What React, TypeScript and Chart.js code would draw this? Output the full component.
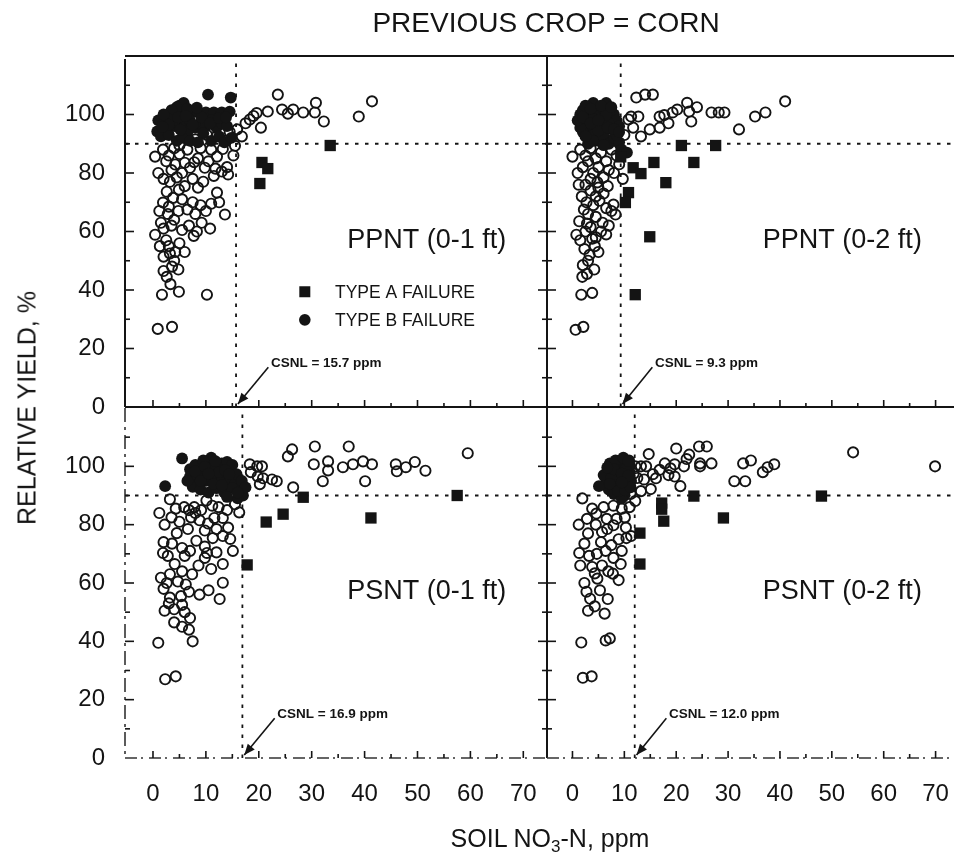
import React, { useEffect, useRef } from "react";
import { Chart, registerables } from "chart.js";

Chart.register(...registerables);

const FONT = "'Liberation Sans', Arial, Helvetica, sans-serif";
const INK = "#141414";

// ---- axes ----
const X_TICKS = [0, 10, 20, 30, 40, 50, 60, 70];
const Y_TICKS = [0, 20, 40, 60, 80, 100];
const X_TICK_MARKS = [0, 5, 10, 15, 20, 25, 30, 35, 40, 45, 50, 55, 60, 65, 70];
const Y_TICK_MARKS = [10, 20, 30, 40, 50, 60, 70, 80, 90, 100, 110];
const RY_LINE = 90;

// ---- labels ----
const TITLE = "PREVIOUS CROP = CORN";
const Y_TITLE = "RELATIVE YIELD, %";
const PANEL_LABELS = ["PPNT (0-1 ft)", "PPNT (0-2 ft)", "PSNT (0-1 ft)", "PSNT (0-2 ft)"];
const CSNL_VALUES = [15.7, 9.3, 16.9, 12.0];
const LEGEND_LABELS = ["TYPE A FAILURE", "TYPE B FAILURE"];

// ---- PPNT 0-1 ft ----
const TL_OPEN = [
  [15.9, 94.9], [16.8, 92.5], [15.5, 89.3], [17.5, 97], [18.3, 98.3], [19, 99.5], [19.6, 100.5], [20.4, 95.5],
  [21.7, 101], [23.6, 106.8], [24.4, 101.7], [25.5, 100.3], [26.5, 101.7], [28.4, 100.7], [30.6, 100.7],
  [30.8, 104], [32.3, 97.6], [38.9, 99.3], [41.4, 104.5],
  [12, 92.5], [13.6, 91], [8, 91.5], [10.2, 93], [14.5, 94], [5, 89.5],
  [0.4, 85.6], [1.9, 88], [3, 86], [4.2, 82.9], [5, 86.5], [6.5, 88], [7, 81.8], [8.5, 85], [9.8, 81.8],
  [10.5, 84], [11, 88], [12.1, 85.6], [13, 80.5], [14, 82], [14.2, 79.5], [2.5, 84], [6, 83.5], [4, 88.5],
  [15.2, 86], [9, 88.5], [3.5, 81], [1, 80], [2, 78], [5.5, 80], [7.5, 78], [9.5, 77], [11.5, 79], [11.8, 81.5],
  [13.2, 88.2], [7.8, 83.7],
  [3.2, 77], [4.5, 78.5], [2.6, 73.6], [4.9, 74.3], [8.5, 75], [12.1, 73.3], [1.9, 69.9], [3, 68.5], [7.5, 70],
  [9, 69], [11, 69.5], [13.6, 65.8], [5.5, 71], [6.5, 67.5], [2.8, 66], [4, 64], [10, 67], [6, 75.5],
  [3.8, 71.5], [8, 66], [12.5, 70], [1.2, 67], [4.8, 67],
  [0.4, 58.9], [2, 61], [3.5, 62], [5.5, 60.5], [8.3, 60], [7.7, 58.5], [2.5, 57], [3, 55], [4.2, 53], [2, 51.4],
  [3.6, 48], [2.6, 44.5], [4, 50], [3.2, 52.5], [5, 56], [1.5, 63], [6.8, 62], [9.2, 63], [10.8, 61], [1.3, 55],
  [4.8, 47], [2, 46.5], [3.3, 42], [6, 53],
  [1.7, 38.4], [4.9, 39.4], [10.2, 38.4], [0.9, 26.7], [3.6, 27.4],
];
const TL_TYPE_A = [[33.5, 89.4], [20.6, 83.6], [21.7, 81.5], [20.2, 76.4]];
const TL_TYPE_B = [
  [4, 100.7], [5.5, 101], [7, 100.5], [8.5, 100.7], [10, 100.7], [11.5, 100.7], [13, 100.7], [14.5, 101],
  [5, 103], [5.8, 104], [4.5, 102.5], [10.4, 106.8], [14.7, 105.8], [6.5, 102], [3.5, 101.5],
  [1, 98], [2, 97], [3, 98.5], [4, 96], [5, 97.5], [6, 96], [7, 98], [8, 95.5], [9, 97], [10, 96], [11, 98],
  [12, 95.5], [13, 97], [14, 96], [2.5, 95], [6.5, 94], [9.5, 93.5],
  [0.8, 94.2], [1.5, 92.5], [3, 93], [4.5, 91], [5.5, 92], [7, 91], [8.5, 90.5], [11, 91], [12.5, 92.5],
  [13.5, 90.5], [14.8, 92], [2, 100], [3, 96.5], [4.8, 99], [6.2, 99.5], [7.5, 96.5], [9.2, 99], [10.8, 97],
  [12.5, 98.8], [13.8, 99], [8.3, 102.3], [1.8, 95.8], [5.2, 94.8],
];

// ---- PPNT 0-2 ft ----
const TR_OPEN = [
  [12.3, 105.8], [14, 106.8], [15.5, 106.8], [41, 104.5], [37.2, 100.7], [35.2, 99.3], [32.1, 94.9],
  [26.8, 100.7], [28.2, 100.7], [29.3, 100.7], [22.1, 104], [22.5, 101], [20.2, 101.7], [19.3, 100.7],
  [16.8, 99.3], [22.9, 97.6], [16.8, 95.5], [14.9, 94.9], [13.2, 92.5], [11.3, 99.3], [12.7, 99.3],
  [10.8, 98.3], [11.7, 95.5], [17.7, 99.8], [10, 93], [24, 102.5], [18.5, 97],
  [0, 85.6], [1.5, 88], [2.5, 86], [3.5, 88.5], [3, 84], [4.5, 85], [5.5, 87], [6.5, 84], [7, 81], [5, 82],
  [4, 80], [2, 82], [8, 80], [6, 78.5], [3.5, 78], [8.5, 86], [9, 83], [9.7, 78], [1, 80], [7.5, 88], [4.8, 76.8],
  [2.5, 76], [3.5, 74], [5, 75], [6, 73], [2.7, 70], [4, 69], [5.2, 70.5], [6.5, 68], [3, 66], [4.5, 65],
  [7.5, 67], [7.9, 69.2], [8.3, 65.8], [1.8, 72], [1.2, 76], [4.5, 72], [6.8, 75.5], [2.2, 67.5], [5.8, 63],
  [7, 62], [1.3, 63.5], [2.8, 62.7],
  [0.75, 58.9], [1.5, 57], [2.5, 60], [3.5, 61.5], [4.5, 58], [5.5, 60], [6.5, 59], [2.3, 54], [3.3, 52],
  [4.3, 55], [3, 50], [2, 48.5], [3.8, 57.5], [5, 53], [2.8, 45.5], [4.2, 47],
  [1.9, 44.5], [1.7, 38.4], [3.8, 39], [0.6, 26.4], [2.1, 27.4],
];
const TR_TYPE_A = [
  [21, 89.4], [27.6, 89.4], [15.7, 83.6], [23.4, 83.6], [11.7, 81.8], [13.2, 79.8], [18, 76.7],
  [10.8, 73.3], [10.2, 69.9], [14.9, 58.2], [12.1, 38.4], [9.3, 85.5],
];
const TR_TYPE_B = [
  [1.5, 100], [2, 101.5], [3, 99], [4, 101], [5, 100], [6, 102], [6.5, 104], [7, 101], [8, 100], [8.5, 98],
  [9, 96], [2.5, 97], [3.5, 95], [4.5, 97], [5.5, 96], [6, 98], [7.5, 95], [2, 94], [3, 92], [4, 93], [5, 91],
  [6, 92.5], [7, 90], [8, 92], [9, 90.5], [9.5, 88], [10.5, 87], [3, 90], [1.5, 95.5], [4, 98.5], [7, 97],
  [8.5, 93], [5, 94.5], [6.5, 100], [4, 104], [2.5, 103], [3.5, 102], [5.5, 103], [7.5, 102.5], [1, 98],
  [2, 99], [3.5, 97], [5, 98], [6.8, 95.5], [8, 95], [9, 94], [4, 91], [6, 89.5], [2.5, 92.5],
];

// ---- PSNT 0-1 ft ----
const BL_OPEN = [
  [26.3, 105.8], [25.5, 103.4], [30.6, 106.8], [37, 106.8], [30.4, 100.7], [33.1, 101.7], [33.1, 98.6],
  [32.1, 94.9], [35.9, 99.7], [37.8, 100.7], [39.7, 101.7], [41.4, 100.7], [40.1, 94.9], [45.9, 100.7],
  [46.1, 98.3], [47.8, 99.7], [51.5, 98.5], [18.3, 100.7], [19.7, 100], [20.6, 100], [18.5, 98], [19.8, 96.5],
  [20.8, 95.9], [22.5, 95.5], [23.4, 94.9], [20.2, 93.9], [26.5, 92.8], [59.5, 104.5], [49.5, 101.5],
  [3.2, 88.7], [4.3, 85.5], [5.9, 86], [6.8, 85], [7.8, 86], [9.1, 85], [8.8, 81.5], [10.4, 80.4], [11.6, 82.3],
  [13.2, 82.3], [15.5, 87], [10.1, 88.3], [12.4, 86], [6.6, 78.5], [4.5, 77.1], [11.3, 75.4], [13.2, 76.1],
  [14.6, 75.1], [15.1, 71], [13.2, 66.5], [13.2, 60.1], [1.9, 70.3], [2.8, 69.3], [5.5, 72], [6, 69.3], [7, 71],
  [9.8, 68.6], [10.2, 70.3], [3.2, 63], [5.5, 64], [7.4, 63], [2.6, 60], [4.7, 60.5], [6.2, 59.5], [3.2, 55],
  [5.3, 55.5], [8.8, 56], [3, 53], [4, 51], [5.5, 52.5], [6, 50], [7, 48], [5.5, 45], [12.6, 54.5],
  [1, 39.5], [7.5, 40], [2.3, 27], [4.3, 28], [8, 84], [14, 85], [2, 58],
  [1.2, 84], [2.2, 80], [3.5, 82.5], [5, 81], [7.2, 82.5], [9.8, 78], [12, 78.5], [14.2, 79], [2, 74],
  [3.6, 73.5], [8.2, 74.5], [9.8, 72.5], [12, 70.5], [4.1, 66.5], [8.6, 66], [11, 64.8], [1.5, 61.8],
  [6.8, 57], [10.5, 57.5], [2.2, 50.5], [4, 46.5], [6.8, 44], [16.3, 84.2], [11.2, 86.5],
];
const BL_TYPE_A = [[28.4, 89.4], [24.6, 83.6], [21.4, 80.9], [41.2, 82.3], [17.8, 66.2], [57.5, 90]];
const BL_TYPE_B = [
  [5.5, 102.7], [2.3, 93.2], [7, 99], [8, 100.5], [9, 98], [10, 101.5], [11, 103], [12, 100], [13, 101],
  [14, 101.5], [15, 100.5], [8.5, 96], [10, 95], [11.5, 97], [13, 96], [14.5, 95], [15.5, 94], [16.5, 92],
  [17, 90], [16, 89], [7.5, 93], [9, 92], [10.5, 91], [12, 92.5], [13.5, 91], [15, 92.5], [11, 99], [12.5, 98],
  [9.5, 102], [7, 96.5], [14, 89.5], [8, 98.3], [9.8, 99.8], [11.8, 101.8], [13.6, 98.7], [15.8, 97.3],
  [16.8, 95], [17.5, 92.8], [16, 91], [9, 95], [11.4, 94], [13, 93.5], [6.5, 95], [10.5, 97.5], [14.4, 97.3],
];

// ---- PSNT 0-2 ft ----
const BR_OPEN = [
  [54.1, 104.8], [69.9, 100], [20, 106.1], [24.4, 106.8], [25.9, 106.8], [22.5, 104], [24.6, 101], [24.6, 100],
  [26.8, 101], [21.5, 100], [17.8, 101], [18.9, 99.3], [19.7, 100.7], [18.5, 97], [19.7, 96.5], [20.8, 93.2],
  [32.9, 101], [34.4, 102], [31.2, 94.9], [33.3, 94.9], [36.7, 98], [37.6, 99.7], [38.9, 100.7], [12.1, 100],
  [13.2, 100], [14.2, 100], [15.5, 97.3], [16.1, 95.9], [15.1, 92.2], [13.2, 91.5], [12.5, 96], [22, 102.5],
  [11.2, 90.5], [13.8, 95.5], [11.8, 97.5], [16.8, 98.8], [14.7, 104.2], [10.9, 102],
  [1.9, 89], [3.8, 85.5], [6, 86], [7.9, 86.5], [9.5, 85.5], [12.1, 88.1], [6.6, 82], [8.5, 82], [10.1, 82.5],
  [4.5, 80], [6.7, 78.5], [8.9, 75], [10.4, 75.4], [11.3, 76.1], [1.3, 70.3], [3.2, 69.3], [4.7, 70], [6.4, 71],
  [7.9, 68.6], [9.3, 66.5], [3.8, 65.5], [5.7, 66], [6.9, 64], [2.3, 60], [4.8, 61.5], [8.9, 61], [3.4, 54.6],
  [4.3, 52], [6.8, 54.5], [2.7, 57], [1.7, 39.6], [6.4, 40.3], [7.2, 41], [2, 27.5], [3.7, 28], [11, 86], [5.5, 74],
  [1.2, 80], [2.8, 82], [4.6, 83.8], [3, 77], [5.7, 77.5], [7.9, 79.8], [10.3, 79], [2.3, 73.5], [7.5, 73],
  [9.5, 71], [1.5, 66], [4.3, 63.3], [7.8, 63.2], [3, 50.5], [5.3, 57.5], [6.2, 49.5],
];
const BR_TYPE_A = [[23.4, 89.8], [48, 89.8], [17.2, 87.4], [17.2, 85.3], [17.6, 81.2], [29.1, 82.3], [13, 77.1], [13, 66.5]];
const BR_TYPE_B = [
  [6.5, 95], [7, 98], [7.5, 100], [8, 97], [8.5, 94], [9, 99], [9.5, 101], [10, 96], [10.5, 93], [11, 98],
  [11, 100.5], [7, 92], [8, 90.5], [9, 92.5], [10, 90], [11.3, 95], [8.8, 96.5], [6, 97], [9.5, 89], [7.5, 96],
  [10.2, 99], [5.1, 93.2], [7.2, 101], [8.3, 102], [9.8, 103], [10.8, 101.8], [8, 99], [9.5, 97.5], [10.8, 96.8],
  [7.2, 94], [8.8, 91.5], [10.2, 91.8], [11.2, 92.8], [9.5, 94.5], [6.7, 99.6],
];

type Pts = number[][];
type PanelCfg = {
  left: number; top: number; width: number; height: number;
  axisW: number; axisH: number; padTop: number; padRight: number;
  xMin: number; xMax: number; showX: boolean; showY: boolean;
  open: Pts; typeA: Pts; typeB: Pts;
  label: string; csnl: number; legend: boolean;
  rightBorder: boolean; topBorder: boolean; faintLeft: boolean; faintBottom: boolean;
};

const LEFT_RANGE = [-5.29, 74.48];
const RIGHT_RANGE = [-4.91, 73.55];

const PANELS: PanelCfg[] = [
  { left: 0, top: 36, width: 557, height: 391, axisW: 125, axisH: 20, padTop: 20, padRight: 10,
    xMin: LEFT_RANGE[0], xMax: LEFT_RANGE[1], showX: false, showY: true,
    open: TL_OPEN, typeA: TL_TYPE_A, typeB: TL_TYPE_B, label: PANEL_LABELS[0], csnl: CSNL_VALUES[0], legend: true,
    rightBorder: true, topBorder: true, faintLeft: false, faintBottom: false },
  { left: 537, top: 36, width: 425, height: 391, axisW: 10, axisH: 20, padTop: 20, padRight: 0,
    xMin: RIGHT_RANGE[0], xMax: RIGHT_RANGE[1], showX: false, showY: false,
    open: TR_OPEN, typeA: TR_TYPE_A, typeB: TR_TYPE_B, label: PANEL_LABELS[1], csnl: CSNL_VALUES[1], legend: false,
    rightBorder: false, topBorder: true, faintLeft: false, faintBottom: false },
  { left: 0, top: 392, width: 557, height: 466, axisW: 125, axisH: 100, padTop: 16, padRight: 10,
    xMin: LEFT_RANGE[0], xMax: LEFT_RANGE[1], showX: true, showY: true,
    open: BL_OPEN, typeA: BL_TYPE_A, typeB: BL_TYPE_B, label: PANEL_LABELS[2], csnl: CSNL_VALUES[2], legend: false,
    rightBorder: true, topBorder: false, faintLeft: true, faintBottom: true },
  { left: 537, top: 392, width: 425, height: 466, axisW: 10, axisH: 100, padTop: 16, padRight: 0,
    xMin: RIGHT_RANGE[0], xMax: RIGHT_RANGE[1], showX: true, showY: false,
    open: BR_OPEN, typeA: BR_TYPE_A, typeB: BR_TYPE_B, label: PANEL_LABELS[3], csnl: CSNL_VALUES[3], legend: false,
    rightBorder: false, topBorder: false, faintLeft: false, faintBottom: true },
];

const toPts = (a: Pts) => a.map(([x, y]) => ({ x, y }));

const noPad = (s: any) => {
  s.paddingTop = 0; s.paddingBottom = 0; s.paddingLeft = 0; s.paddingRight = 0;
};

const decorPlugin = {
  id: "decor",
  beforeDatasetsDraw(chart: any, _args: any, o: any) {
    const { ctx, chartArea: ca, scales } = chart;
    const x = scales.x, y = scales.y;
    ctx.save();
    ctx.strokeStyle = INK;
    ctx.lineWidth = 1.8;
    ctx.setLineDash([3.5, 6.5]);
    const cx = x.getPixelForValue(o.csnl);
    ctx.beginPath(); ctx.moveTo(cx, ca.bottom); ctx.lineTo(cx, ca.top); ctx.stroke();
    const hy = y.getPixelForValue(RY_LINE);
    ctx.beginPath(); ctx.moveTo(ca.left, hy); ctx.lineTo(ca.right, hy); ctx.stroke();
    ctx.restore();
  },
  afterDatasetsDraw(chart: any, _args: any, o: any) {
    const { ctx, chartArea: ca, scales } = chart;
    const x = scales.x, y = scales.y;
    const seg = (x1: number, y1: number, x2: number, y2: number, w: number, dash: number[] = [], color = INK) => {
      ctx.save();
      ctx.strokeStyle = color; ctx.lineWidth = w; ctx.setLineDash(dash);
      ctx.beginPath(); ctx.moveTo(x1, y1); ctx.lineTo(x2, y2); ctx.stroke();
      ctx.restore();
    };
    // frame
    if (o.topBorder) seg(ca.left, ca.top, ca.right, ca.top, 2.2);
    if (o.faintLeft) seg(ca.left, ca.top, ca.left, ca.bottom, 1.6, [14, 5, 3, 5], "#333");
    else seg(ca.left, ca.top + 3, ca.left, ca.bottom, 2);
    if (o.faintBottom) seg(ca.left, ca.bottom, ca.right, ca.bottom, 1.4, [12, 4, 2, 6], "#333");
    else seg(ca.left, ca.bottom, ca.right, ca.bottom, 2.2);
    if (o.rightBorder) seg(ca.right, ca.top, ca.right, ca.bottom, 2);
    // inner ticks
    Y_TICK_MARKS.forEach((v) => {
      const py = y.getPixelForValue(v);
      const len = v % 20 === 0 ? 9 : 5;
      seg(ca.left, py, ca.left + len, py, 1.6);
      if (o.rightBorder) seg(ca.right, py, ca.right - len, py, 1.6);
    });
    X_TICK_MARKS.forEach((v) => {
      const px = x.getPixelForValue(v);
      const len = v % 10 === 0 ? 7 : 4;
      seg(px, ca.bottom, px, ca.bottom - len, 1.6);
    });
    ctx.save();
    ctx.fillStyle = INK;
    // panel label
    ctx.font = `27px ${FONT}`;
    ctx.textAlign = "left"; ctx.textBaseline = "middle";
    ctx.fillText(o.label, x.getPixelForValue(36.7), y.getPixelForValue(57));
    // CSNL annotation
    ctx.font = `bold 13.5px ${FONT}`;
    const tx = x.getPixelForValue(o.csnl + 6.6), ty = y.getPixelForValue(15);
    ctx.fillText(`CSNL = ${o.csnl.toFixed(1)} ppm`, tx, ty);
    const sx = x.getPixelForValue(o.csnl + 6.1), sy = y.getPixelForValue(13.6);
    const ex = x.getPixelForValue(o.csnl + 0.35), ey = y.getPixelForValue(1.0);
    ctx.strokeStyle = INK; ctx.lineWidth = 1.6;
    ctx.beginPath(); ctx.moveTo(sx, sy); ctx.lineTo(ex, ey); ctx.stroke();
    const ang = Math.atan2(ey - sy, ex - sx);
    const hl = 11, hw = 4.5;
    ctx.beginPath();
    ctx.moveTo(ex, ey);
    ctx.lineTo(ex - hl * Math.cos(ang) + hw * Math.sin(ang), ey - hl * Math.sin(ang) - hw * Math.cos(ang));
    ctx.lineTo(ex - hl * Math.cos(ang) - hw * Math.sin(ang), ey - hl * Math.sin(ang) + hw * Math.cos(ang));
    ctx.closePath(); ctx.fill();
    // legend
    if (o.legend) {
      const mx = x.getPixelForValue(28.7);
      const ya = y.getPixelForValue(39.4), yb = y.getPixelForValue(29.8);
      ctx.fillRect(mx - 5.5, ya - 5.5, 11, 11);
      ctx.beginPath(); ctx.arc(mx, yb, 5.8, 0, Math.PI * 2); ctx.fill();
      ctx.font = `17.5px ${FONT}`;
      const lx = x.getPixelForValue(34.4);
      ctx.fillText(LEGEND_LABELS[0], lx, ya + 1);
      ctx.fillText(LEGEND_LABELS[1], lx, yb + 1);
    }
    ctx.restore();
  },
};

function Panel({ cfg }: { cfg: PanelCfg }) {
  const ref = useRef<HTMLCanvasElement | null>(null);
  useEffect(() => {
    if (!ref.current) return;
    const chart = new Chart(ref.current, {
      type: "scatter",
      data: {
        datasets: [
          { label: LEGEND_LABELS[0], data: toPts(cfg.typeA), pointStyle: "rect", pointRadius: 8,
            backgroundColor: INK, borderColor: INK, borderWidth: 0 },
          { label: LEGEND_LABELS[1], data: toPts(cfg.typeB), pointStyle: "circle", pointRadius: 5.9,
            backgroundColor: INK, borderColor: INK, borderWidth: 0 },
          { label: "NO FAILURE", data: toPts(cfg.open), pointStyle: "circle", pointRadius: 5.1,
            backgroundColor: "rgba(0,0,0,0)", borderColor: INK, borderWidth: 1.9 },
        ],
      } as any,
      options: {
        animation: false,
        responsive: false,
        devicePixelRatio: 1,
        events: [],
        layout: { padding: { top: cfg.padTop, right: cfg.padRight, left: 0, bottom: 0 } },
        plugins: {
          legend: { display: false },
          tooltip: { enabled: false },
          decor: {
            label: cfg.label, csnl: cfg.csnl, legend: cfg.legend, rightBorder: cfg.rightBorder,
            topBorder: cfg.topBorder, faintLeft: cfg.faintLeft, faintBottom: cfg.faintBottom,
          },
        } as any,
        scales: {
          x: {
            type: "linear", min: cfg.xMin, max: cfg.xMax,
            grid: { display: false, drawTicks: false },
            border: { display: false },
            ticks: { display: cfg.showX, font: { family: FONT, size: 24 }, color: INK, padding: 22,
              maxRotation: 0, autoSkip: false, includeBounds: false },
            afterBuildTicks: (s: any) => { s.ticks = X_TICKS.map((v) => ({ value: v })); },
            afterFit: (s: any) => { s.height = cfg.axisH; noPad(s); },
          },
          y: {
            type: "linear", min: 0, max: 120,
            grid: { display: false, drawTicks: false },
            border: { display: false },
            ticks: { display: cfg.showY, font: { family: FONT, size: 24 }, color: INK, padding: 20,
              autoSkip: false, includeBounds: false },
            afterBuildTicks: (s: any) => { s.ticks = Y_TICKS.map((v) => ({ value: v })); },
            afterFit: (s: any) => { s.width = cfg.axisW; noPad(s); },
          },
        } as any,
      },
      plugins: [decorPlugin as any],
    });
    return () => chart.destroy();
  }, [cfg]);
  return (
    <canvas
      ref={ref}
      width={cfg.width}
      height={cfg.height}
      style={{ position: "absolute", left: cfg.left, top: cfg.top, width: cfg.width, height: cfg.height }}
    />
  );
}

export default function App() {
  const text: React.CSSProperties = { position: "absolute", fontFamily: FONT, color: INK, whiteSpace: "nowrap", lineHeight: 1 };
  return (
    <div style={{ position: "fixed", left: 0, top: 0, width: 962, height: 858, background: "#fff", overflow: "hidden" }}>
      {PANELS.map((p, i) => <Panel key={i} cfg={p} />)}
      <div style={{ ...text, left: 546, top: 23, fontSize: 28, transform: "translate(-50%, -50%)" }}>{TITLE}</div>
      <div style={{ ...text, left: 27, top: 408, fontSize: 25, transform: "translate(-50%, -50%) rotate(-90deg)" }}>{Y_TITLE}</div>
      <div style={{ ...text, left: 550, top: 840, fontSize: 25, transform: "translate(-50%, -50%)" }}>
        SOIL NO<sub style={{ fontSize: 17, verticalAlign: "-5px" }}>3</sub>-N, ppm
      </div>
    </div>
  );
}
